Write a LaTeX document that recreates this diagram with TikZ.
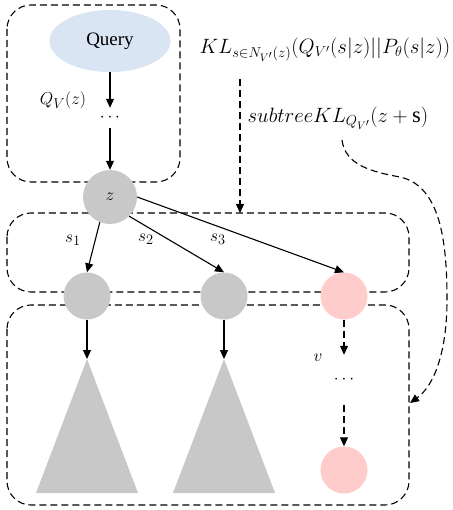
\documentclass[tikz,border=0pt]{standalone}
\usepackage{fontspec}
\setmainfont{Liberation Serif}
\usetikzlibrary{arrows.meta, positioning, shapes.geometric}

\definecolor{queryblue}{HTML}{DAE5F3}
\definecolor{nodegray}{HTML}{C8C8C8}
\definecolor{nodepink}{HTML}{FFCCCC}

\begin{document}
\begin{tikzpicture}[
    x=1pt, y=-1pt,
    font=\fontsize{19}{23}\selectfont,
    query/.style={ellipse, fill=queryblue, minimum width=121pt, minimum height=62pt, inner sep=0pt},
    vertex/.style={circle, fill=nodegray, minimum size=47pt, inner sep=0pt},
    hot vertex/.style={vertex, fill=nodepink},
    dots/.style={inner sep=0pt, minimum height=20pt},
    term/.style={font=\fontsize{21.5}{25}\selectfont},
    group box/.style={draw=black, dash pattern=on 7pt off 4pt, line width=1.1pt, rounded corners=24pt},
    tree edge/.style={-{Triangle[length=9pt,width=8pt]}, line width=1.1pt},
    kl edge/.style={tree edge, dash pattern=on 7pt off 4pt},
    subtree/.style={fill=nodegray}
]

\useasboundingbox (0,0) rectangle (452,510);

% --- Dashed groups: query path, children of z, subtrees ---
\draw[group box] (7,5) rectangle (180,182);
\draw[group box] (7,213) rectangle (409,292);
\draw[group box] (7,305) rectangle (409,505);

% --- Nodes ---
\node[query] (query) at (110,41) {Query};
\node[dots] (dotsA) at (110,118) {$\cdots$};
\node[vertex, minimum size=54pt] (z) at (110,197) {$z$};
\foreach \i/\x in {1/87, 2/224} {
    \node[vertex] (c\i) at (\x,296) {};
}
\node[hot vertex] (c3) at (344,296) {};
\node[dots, minimum height=50pt] (dotsB) at (344,380) {$\cdots$};
\node[hot vertex] (leaf) at (344,470) {};

% --- Subtrees under the grey children ---
\foreach \i/\x in {1/87, 2/224} {
    \coordinate (t\i) at (\x,359);
    \fill[subtree] (t\i) -- ++(-51,134) -- ++(102,0) -- cycle;
}

% --- Labels ---
\node (qlabel) at (63,100) {$Q_V(z)$};
\node (s1) at (73,240) {$s_1$};
\node (s2) at (146,239) {$s_2$};
\node (s3) at (218,239) {$s_3$};
\node (vlabel) at (318,358) {$v$};
\node[term] (kl) at (325,50) {$KL_{s\in N_{V'}(z)}\bigl(Q_{V'}(s|z)||P_\theta(s|z)\bigr)$};
\node[term, font=\fontsize{22.5}{26}\selectfont] (skl) at (338,118) {$subtreeKL_{Q_{V'}}(z+\mathrm{s})$};

% --- Edges ---
\draw[tree edge] (query) -- (dotsA);
\draw[tree edge] (dotsA) -- (z);
\draw[tree edge] (z.-112) -- (c1.north);
\draw[tree edge] (z.-45) -- (c2.north);
\draw[tree edge] (z.east) -- (c3.north);
\foreach \i in {1,2} {
    \draw[tree edge] (c\i) -- (t\i);
}
\draw[kl edge] (c3) -- (dotsB);
\draw[kl edge] (dotsB) -- (leaf);

% --- KL terms pointing at the groups ---
\coordinate (midtop) at (240,213);
\coordinate (sklfoot) at (342,140);
\coordinate (boxhit) at (410,403);
\draw[kl edge, shorten <=14pt] (kl.south -| midtop) -- (midtop);
\draw[kl edge] (sklfoot) .. controls (345,165) and (372,172) .. (400,177)
    .. controls (440,186) and (447,240) .. (447,300)
    .. controls (447,350) and (435,385) .. (boxhit);

\end{tikzpicture}
\end{document}
